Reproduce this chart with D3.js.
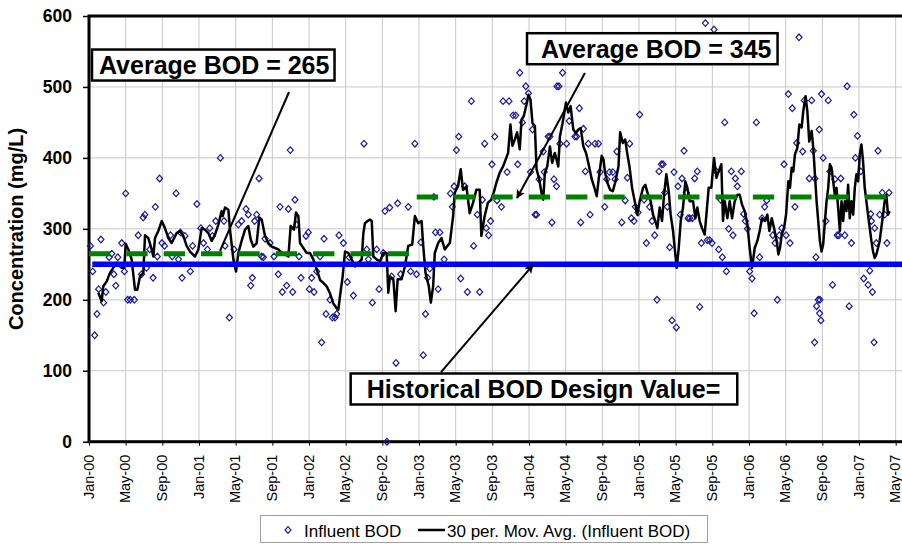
<!DOCTYPE html>
<html>
<head>
<meta charset="utf-8">
<script src="https://cdn.jsdelivr.net/npm/d3@7"></script>
<style>
  body { margin: 0; background: #fff; }
  svg { font-family: 'Liberation Sans', Arial, sans-serif; }
</style>
</head>
<body>
<script>
// x values are months counted from Jan-2000 (0 = Jan-00, 12 = Jan-01 ...)
var tickLabels = ['Jan-00','May-00','Sep-00','Jan-01','May-01','Sep-01','Jan-02','May-02','Sep-02',
  'Jan-03','May-03','Sep-03','Jan-04','May-04','Sep-04','Jan-05','May-05','Sep-05','Jan-06',
  'May-06','Sep-06','Jan-07','May-07'];
var yTicks = [0, 100, 200, 300, 400, 500, 600];

// Influent BOD samples [month, mg/L]
var influentBOD = [
  [0.15,276],[0.4,240],[0.62,150],[0.87,180],[1.05,215],[1.3,285],[1.59,196],[1.84,211],[2.2,260],
  [2.49,265],[2.71,236],[2.92,220],[3.14,260],[3.57,280],[3.86,240],[4.0,350],[4.22,200],[4.5,200],
  [4.94,200],[5.37,291],[5.73,236],[5.91,316],[6.09,320],[6.27,245],[6.63,271],[6.99,231],[7.24,331],
  [7.45,261],[7.7,371],[7.96,280],[8.24,276],[8.89,291],[9.07,261],[9.5,350],[9.76,257],[9.97,295],
  [10.15,231],[10.47,290],[11.05,240],[11.3,276],[11.77,335],[12.2,301],[12.49,280],[12.92,271],
  [13.17,301],[13.46,290],[13.82,311],[14.33,400],[14.73,311],[14.84,276],[15.31,175],[15.82,271],
  [16.29,306],[16.65,311],[17.13,328],[17.38,320],[17.64,220],[17.82,231],[18.07,311],[18.29,320],
  [18.55,371],[18.84,261],[19.02,260],[19.2,286],[19.75,280],[20.18,261],[20.65,236],[20.84,331],
  [21.09,211],[21.56,220],[21.75,328],[21.96,411],[22.22,211],[22.47,341],[22.65,306],[22.91,261],
  [23.13,231],[23.67,290],[23.93,295],[24.04,215],[24.29,231],[24.55,211],[24.84,240],[25.2,261],
  [25.38,140],[25.64,286],[25.85,180],[26.29,200],[26.55,175],[26.84,175],[27.02,180],[27.27,291],
  [27.75,280],[28.18,225],[28.4,260],[28.84,206],[30.0,420],[30.3,271],[30.48,257],[30.91,196],
  [31.38,271],[31.64,215],[32.11,266],[32.29,325],[32.5,0],[32.8,330],[33.01,233],[33.49,111],
  [33.67,336],[33.99,236],[34.83,331],[35.08,240],[35.55,420],[35.73,236],[36.2,281],[36.46,122],
  [36.71,180],[36.93,231],[37.18,244],[37.62,345],[37.8,295],[38.09,215],[38.27,295],[38.74,257],
  [39.43,350],[39.64,331],[39.83,360],[40.08,411],[40.33,430],[40.55,230],[40.99,360],[41.28,211],
  [41.71,480],[41.96,276],[42.36,320],[42.62,211],[42.91,341],[43.16,420],[43.34,301],[43.59,291],
  [43.81,311],[43.96,391],[44.26,430],[44.51,340],[44.99,331],[45.17,480],[45.61,380],[45.82,480],
  [46.26,460],[46.55,460],[46.77,391],[46.99,520],[47.28,450],[47.47,480],[47.65,501],[47.94,491],
  [48.16,380],[48.38,440],[48.67,320],[48.82,320],[49.11,370],[49.55,409],[49.66,380],[50.09,430],
  [50.28,430],[50.5,309],[50.72,370],[51.0,360],[51.05,501],[51.26,501],[51.37,420],[51.66,520],
  [52.1,420],[52.39,452],[53.01,430],[53.2,430],[53.49,470],[53.64,309],[53.93,441],[54.15,381],
  [54.47,420],[54.66,320],[55.2,420],[55.57,420],[55.75,380],[56.26,331],[56.48,370],[56.77,380],
  [57.14,380],[57.39,370],[57.58,409],[58.12,309],[58.49,340],[58.73,372],[58.98,420],[59.16,315],
  [59.45,311],[59.6,331],[59.89,323],[60.07,461],[60.55,341],[60.8,280],[61.16,331],[61.42,311],
  [61.71,291],[61.96,200],[62.18,381],[62.44,391],[62.62,391],[62.8,351],[63.09,331],[63.35,274],
  [63.6,171],[63.82,380],[64.07,161],[64.25,360],[64.51,320],[64.69,371],[64.91,410],[65.16,351],
  [65.35,315],[65.53,315],[65.82,315],[66.07,371],[66.36,381],[66.62,190],[66.8,280],[67.24,590],
  [67.45,284],[67.71,284],[67.96,280],[68.18,581],[68.44,381],[68.69,271],[68.91,341],[69.09,260],
  [69.35,450],[69.53,240],[69.78,300],[70.07,381],[70.25,291],[70.51,371],[70.73,360],[71.16,381],
  [71.42,321],[71.6,311],[71.82,300],[72.07,240],[72.33,230],[72.56,181],[72.8,450],[73.16,260],
  [73.42,315],[73.71,331],[73.93,340],[74.59,291],[74.84,280],[75.09,200],[75.31,291],[75.57,301],
  [75.82,391],[76.04,291],[76.29,490],[76.47,280],[76.72,470],[77.01,331],[77.2,421],[77.45,570],
  [77.85,409],[78.03,481],[78.57,371],[78.83,481],[79.01,410],[79.15,140],[79.19,371],[79.3,260],
  [79.37,191],[79.55,200],[79.66,440],[79.7,181],[79.73,200],[79.84,171],[79.91,490],[80.09,400],
  [80.38,311],[80.64,481],[80.82,381],[81.11,221],[81.36,370],[81.62,291],[81.8,291],[82.01,371],
  [82.45,291],[82.7,501],[82.92,191],[83.17,280],[83.43,461],[83.61,400],[83.83,431],[84.19,381],
  [84.51,230],[84.99,221],[85.17,241],[85.28,321],[85.35,311],[85.46,211],[85.64,140],[85.71,301],
  [85.89,280],[86.07,410],[86.25,320],[86.54,351],[86.8,320],[87.05,280],[87.27,351]
];

// 30 per. moving average [month, mg/L]
var movAvg = [
  [1.02,210],[1.38,198],[1.56,219],[1.93,226],[2.29,238],[2.65,245],[3.02,252],[3.56,245],[3.85,245],
  [4.0,279],[4.29,271],[4.65,257],[5.02,214],[5.27,214],[5.56,233],[5.93,238],[6.11,291],[6.47,287],
  [6.84,271],[7.02,261],[7.2,287],[7.56,297],[7.93,311],[8.29,301],[8.65,287],[9.02,280],[9.56,294],
  [9.93,297],[10.29,290],[10.65,276],[11.02,268],[11.56,261],[11.93,271],[12.29,301],[12.65,299],
  [13.02,294],[13.38,283],[13.75,292],[14.11,306],[14.47,325],[14.58,318],[14.84,330],[15.2,327],
  [15.38,299],[15.75,257],[16.04,240],[16.29,266],[16.65,283],[17.02,299],[17.38,304],[17.64,285],
  [17.93,275],[18.29,280],[18.58,316],[18.84,313],[19.2,290],[19.56,280],[19.93,275],[20.29,273],
  [20.65,271],[21.02,266],[21.38,264],[21.75,261],[22.0,304],[22.36,299],[22.58,323],[22.84,318],
  [23.02,280],[23.38,273],[23.75,266],[24.11,266],[24.47,257],[24.84,243],[25.2,228],[25.56,224],
  [25.93,219],[26.29,209],[26.65,195],[27.02,188],[27.2,186],[27.38,205],[27.67,233],[27.93,268],
  [28.29,266],[28.65,257],[29.02,247],[29.4,252],[29.75,257],[29.93,294],[30.1,308],[30.4,311],
  [30.66,313],[30.84,311],[31.02,261],[31.38,257],[31.75,254],[32.1,266],[32.47,266],[32.65,210],
  [32.83,233],[33.2,229],[33.45,184],[33.67,229],[34.1,229],[34.46,247],[34.83,276],[35.26,278],
  [35.55,318],[35.91,308],[36.28,311],[36.46,276],[36.71,238],[37.07,219],[37.29,196],[37.54,219],
  [37.72,266],[38.09,280],[38.45,287],[38.81,271],[39.1,276],[39.36,280],[39.72,318],[39.9,351],
  [40.26,360],[40.55,384],[40.8,355],[41.17,360],[41.53,322],[41.9,337],[42.25,355],[42.62,355],
  [42.8,290],[43.16,318],[43.52,337],[43.88,341],[44.15,351],[44.44,365],[44.8,379],[45.17,388],
  [45.46,398],[45.72,407],[45.97,447],[46.19,417],[46.45,426],[46.7,436],[46.99,412],[47.18,454],
  [47.43,459],[47.72,475],[47.94,489],[48.16,482],[48.38,449],[48.64,445],[48.82,384],[49.11,370],
  [49.36,351],[49.55,341],[49.73,379],[49.99,388],[50.28,416],[50.53,393],[50.82,407],[51.19,388],
  [51.37,430],[51.66,449],[52.03,478],[52.28,464],[52.54,473],[52.83,440],[53.12,435],[53.38,440],
  [53.64,442],[53.93,416],[54.22,407],[54.47,393],[54.84,370],[55.09,360],[55.39,346],[55.68,379],
  [55.93,403],[56.12,398],[56.3,379],[56.55,365],[56.85,355],[57.14,353],[57.39,365],[57.76,388],
  [57.94,436],[58.23,421],[58.49,426],[58.73,405],[58.98,386],[59.24,358],[59.53,339],[59.82,320],
  [60.07,339],[60.44,358],[60.69,362],[60.98,348],[61.27,339],[61.53,320],[61.78,311],[62.0,301],
  [62.25,330],[62.51,311],[62.73,348],[62.98,377],[63.24,353],[63.45,320],[63.71,297],[63.89,273],
  [64.11,245],[64.33,273],[64.55,311],[64.8,330],[65.05,367],[65.27,358],[65.53,339],[65.89,339],
  [66.15,315],[66.36,330],[66.62,311],[66.87,301],[67.16,292],[67.35,320],[67.6,358],[67.89,358],
  [68.18,400],[68.44,372],[68.69,381],[68.98,391],[69.16,311],[69.35,339],[69.64,315],[69.89,339],
  [70.15,315],[70.44,339],[70.73,348],[70.98,348],[71.24,334],[71.53,325],[71.82,306],[72.07,273],
  [72.33,245],[72.62,273],[72.91,283],[73.16,297],[73.42,315],[73.75,311],[74.0,320],[74.22,297],
  [74.48,315],[74.73,301],[75.02,283],[75.2,264],[75.38,273],[75.57,292],[75.82,301],[76.04,320],
  [76.29,367],[76.47,358],[76.65,386],[76.83,381],[77.01,405],[77.27,414],[77.49,447],[77.74,443],
  [77.92,466],[78.17,487],[78.36,466],[78.57,423],[78.83,438],[79.01,414],[79.19,377],[79.37,339],
  [79.55,311],[79.73,283],[79.91,268],[80.09,278],[80.28,311],[80.46,339],[80.64,358],[80.82,391],
  [81.0,386],[81.18,367],[81.36,348],[81.54,358],[81.72,330],[81.91,297],[82.09,339],[82.27,311],
  [82.45,339],[82.63,325],[82.81,362],[82.99,315],[83.17,339],[83.36,320],[83.54,358],[83.72,377],
  [83.9,367],[84.08,405],[84.26,419],[84.44,395],[84.62,358],[84.8,339],[84.98,320],[85.17,301],
  [85.35,283],[85.53,268],[85.71,259],[85.89,264],[86.07,273],[86.25,283],[86.43,301],[86.62,320],
  [86.8,339],[86.98,348],[87.16,320],[87.34,325]
];

// period averages [start month, end month, mg/L]
var avgPeriods = [[0, 35.45, 265], [35.75, 87.27, 345]];
// historical design value
var designValue = 250;
var designStart = 0.36, designEnd = 89;

// callouts, anchored in chart units
var notes = [
  { text: 'Average BOD = 265', m: 1.09, v: 518.2, padL: 7, padR: 5 },
  { text: 'Average BOD = 345', m: 49.31, v: 541.2, padL: 14, padR: 6 },
  { text: 'Historical BOD Design Value=', m: 30.29, v: 61.6, padL: 16, padR: 17 }
];
var arrows = [
  { from: [21.82, 492.9], to: [14.29, 268.8], head: false },
  { from: [54.1, 519.7], to: [46.69, 343.5], head: true },
  { from: [38.4, 98.2], to: [48.43, 249.0], head: true }
];

(function () {
  var width = 902, height = 544;
  var plotLeft = 89, plotTop = 16, plotBottom = 441.7, pxPerMonth = 9.167;

  var svg = d3.select('body').append('svg')
    .attr('width', width)
    .attr('height', height);

  var xScale = d3.scaleLinear().domain([0, 89]).range([plotLeft, plotLeft + 89 * pxPerMonth]);
  var yScale = d3.scaleLinear().domain([0, 600]).range([plotBottom, plotTop]);
  var xTicks = d3.range(0, 89, 4);

  // gridlines
  svg.append('g')
    .selectAll('line')
    .data(xTicks.slice(1))
    .enter().append('line')
    .attr('x1', function (d) { return xScale(d); })
    .attr('x2', function (d) { return xScale(d); })
    .attr('y1', plotTop).attr('y2', plotBottom)
    .attr('stroke', '#c8c8c8').attr('stroke-width', 1);
  svg.append('g')
    .selectAll('line')
    .data(yTicks.slice(1, -1))
    .enter().append('line')
    .attr('x1', plotLeft).attr('x2', xScale(89))
    .attr('y1', function (d) { return yScale(d); })
    .attr('y2', function (d) { return yScale(d); })
    .attr('stroke', '#c8c8c8').attr('stroke-width', 1);

  // frame
  svg.append('rect')
    .attr('x', plotLeft).attr('y', plotTop)
    .attr('width', xScale(89) - plotLeft).attr('height', plotBottom - plotTop)
    .attr('fill', 'none').attr('stroke', '#000').attr('stroke-width', 3);

  // y axis
  var yAxis = d3.axisLeft(yScale).tickValues(yTicks).tickSize(6).tickPadding(11);
  var gy = svg.append('g').attr('transform', 'translate(' + plotLeft + ',0)').call(yAxis);
  gy.select('.domain').remove();
  gy.selectAll('.tick line').attr('stroke', '#000').attr('stroke-width', 1.5);
  gy.selectAll('.tick text')
    .attr('font-family', "'Liberation Sans', Arial, sans-serif")
    .attr('font-size', 17.5).attr('font-weight', 'bold').attr('fill', '#000');

  // x axis
  var xAxis = d3.axisBottom(xScale).tickValues(xTicks).tickSize(4)
    .tickFormat(function (d, i) { return tickLabels[i]; });
  var gx = svg.append('g').attr('transform', 'translate(0,' + plotBottom + ')').call(xAxis);
  gx.select('.domain').remove();
  gx.selectAll('.tick line').attr('stroke', '#000');
  gx.selectAll('.tick text')
    .attr('font-family', "'Liberation Sans', Arial, sans-serif")
    .attr('font-size', 14.5).attr('fill', '#000')
    .attr('transform', 'rotate(-90)')
    .attr('x', -13).attr('y', 0).attr('dy', '0.28em')
    .style('text-anchor', 'end');

  // y title
  svg.append('text')
    .attr('transform', 'translate(23,229) rotate(-90)')
    .attr('text-anchor', 'middle')
    .attr('font-size', 20).attr('font-weight', 'bold')
    .text('Concentration (mg/L)');

  var diamond = 'M0,-3.3L3,0L0,3.3L-3,0Z';

  // influent samples
  svg.append('g')
    .selectAll('path')
    .data(influentBOD)
    .enter().append('path')
    .attr('d', diamond)
    .attr('transform', function (d) { return 'translate(' + xScale(d[0]) + ',' + yScale(d[1]) + ')'; })
    .attr('fill', 'none')
    .attr('stroke', '#1a1a99')
    .attr('stroke-width', 1.2);

  // moving average
  var line = d3.line()
    .x(function (d) { return xScale(d[0]); })
    .y(function (d) { return yScale(d[1]); });
  svg.append('path')
    .datum(movAvg)
    .attr('d', line)
    .attr('fill', 'none')
    .attr('stroke', '#000')
    .attr('stroke-width', 2.5)
    .attr('stroke-linejoin', 'round');

  // period averages (green dashes)
  svg.append('g')
    .selectAll('line')
    .data(avgPeriods)
    .enter().append('line')
    .attr('x1', function (d) { return xScale(d[0]); })
    .attr('x2', function (d) { return xScale(d[1]); })
    .attr('y1', function (d) { return yScale(d[2]); })
    .attr('y2', function (d) { return yScale(d[2]); })
    .attr('stroke', '#008000')
    .attr('stroke-width', 5)
    .attr('stroke-dasharray', '21.3,16.05');

  // design value (blue)
  svg.append('line')
    .attr('x1', xScale(designStart)).attr('x2', xScale(designEnd))
    .attr('y1', yScale(designValue)).attr('y2', yScale(designValue))
    .attr('stroke', '#0000ff')
    .attr('stroke-width', 5.5);

  // arrow marker
  svg.append('defs').append('marker')
    .attr('id', 'head')
    .attr('viewBox', '0 0 10 10')
    .attr('refX', 9).attr('refY', 5)
    .attr('markerUnits', 'userSpaceOnUse')
    .attr('markerWidth', 11).attr('markerHeight', 9)
    .attr('orient', 'auto')
    .append('path').attr('d', 'M0,0L10,5L0,10L2.5,5Z').attr('fill', '#000');

  svg.append('g')
    .selectAll('line')
    .data(arrows)
    .enter().append('line')
    .attr('x1', function (d) { return xScale(d.from[0]); })
    .attr('y1', function (d) { return yScale(d.from[1]); })
    .attr('x2', function (d) { return xScale(d.to[0]); })
    .attr('y2', function (d) { return yScale(d.to[1]); })
    .attr('stroke', '#000')
    .attr('stroke-width', 2)
    .attr('marker-end', function (d) { return d.head ? 'url(#head)' : null; });

  // callout boxes
  notes.forEach(function (n) {
    var g = svg.append('g');
    var rect = g.append('rect');
    var t = g.append('text')
      .attr('x', xScale(n.m)).attr('y', yScale(n.v))
      .attr('font-size', 25).attr('font-weight', 'bold')
      .text(n.text);
    var b = t.node().getBBox();
    rect.attr('x', b.x - n.padL).attr('y', b.y - 1.5)
      .attr('width', b.width + n.padL + n.padR).attr('height', b.height + 3)
      .attr('fill', '#fff').attr('stroke', '#000').attr('stroke-width', 2.5);
  });

  // legend
  var lg = svg.append('g');
  lg.append('rect')
    .attr('x', 260.5).attr('y', 515.5).attr('width', 447).attr('height', 27)
    .attr('fill', '#fff').attr('stroke', '#a0a0a0').attr('stroke-width', 1);
  lg.append('path').attr('d', diamond)
    .attr('transform', 'translate(288,530)')
    .attr('fill', 'none').attr('stroke', '#1a1a99').attr('stroke-width', 1.2);
  lg.append('text').attr('x', 304).attr('y', 536.5)
    .attr('font-size', 17).text('Influent BOD');
  lg.append('line').attr('x1', 418).attr('x2', 445).attr('y1', 530).attr('y2', 530)
    .attr('stroke', '#000').attr('stroke-width', 2.5);
  lg.append('text').attr('x', 447).attr('y', 536.5)
    .attr('font-size', 17).text('30 per. Mov. Avg. (Influent BOD)');
})();
</script>
</body>
</html>
